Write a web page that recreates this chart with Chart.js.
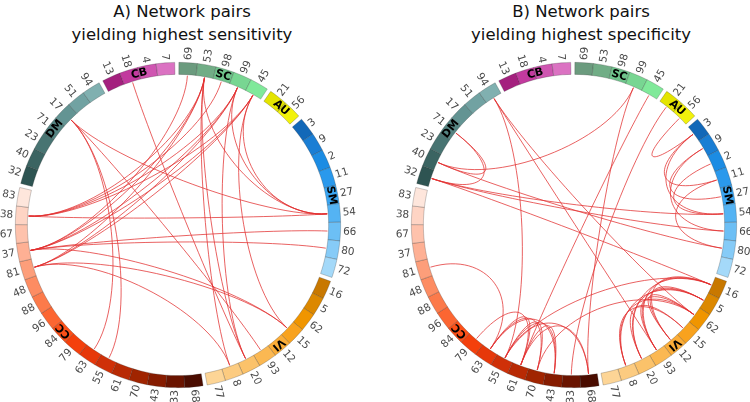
<!DOCTYPE html>
<html>
<head>
<meta charset="utf-8">
<script src="https://cdn.jsdelivr.net/npm/chart.js@4.4.1/dist/chart.umd.min.js"></script>
<style>
  body { margin: 0; width: 750px; height: 402px; overflow: hidden; position: relative; background: #fff; font-family: "DejaVu Sans", sans-serif; }
  .title { position: absolute; top: 0; width: 300px; text-align: center; font-size: 16.5px; line-height: 23px; color: #111; }
  canvas { position: absolute; top: 0; }
</style>
</head>
<body>
<div class="title" style="left:32px">A) Network pairs<br>yielding highest sensitivity</div>
<div class="title" style="left:431px">B) Network pairs<br>yielding highest specificity</div>
<canvas id="chartA" width="356" height="402" style="left:0"></canvas>
<canvas id="chartB" width="354" height="402" style="left:396px"></canvas>
<script>
// networks, clockwise from the top
const networkNames = ["SC", "AU", "SM", "VI", "CC", "DM", "CB"];
const SC = ["69", "53", "98", "99", "45"];
const AU = ["21", "56"];
const SM = ["3", "9", "2", "11", "27", "54", "66", "80", "72"];
const VI = ["16", "5", "62", "15", "12", "93", "20", "8", "77"];
const CC = ["68", "33", "43", "70", "61", "55", "63", "79", "84", "96", "88", "48", "81", "37", "67", "38", "83"];
const DM = ["32", "40", "23", "71", "17", "51", "94"];
const CB = ["13", "18", "4", "7"];

// node pairs drawn as chords
const sensitivityPairs = [
  ["38", "54"], ["38", "53"], ["38", "98"], ["38", "99"], ["38", "45"],
  ["37", "69"], ["37", "53"], ["37", "99"], ["37", "45"], ["37", "66"], ["37", "80"], ["37", "15"],
  ["81", "53"], ["81", "99"], ["81", "45"], ["81", "15"], ["81", "8"],
  ["17", "54"], ["17", "63"], ["17", "55"], ["17", "93"],
  ["18", "20"],
  ["53", "20"], ["53", "8"], ["53", "54"],
  ["99", "54"], ["99", "20"],
  ["45", "54"], ["45", "15"],
];
const specificityPairs = [
  ["32", "71"], ["40", "71"], ["32", "54"], ["32", "66"], ["32", "16"], ["40", "80"], ["40", "99"],
  ["94", "62"], ["94", "93"], ["94", "55"],
  ["99", "68"], ["21", "33"], ["56", "3"],
  ["3", "11"], ["3", "54"], ["9", "27"], ["9", "66"], ["2", "54"], ["11", "80"],
  ["16", "93"], ["16", "20"], ["5", "93"], ["5", "20"], ["5", "8"], ["62", "93"], ["62", "8"],
  ["15", "20"], ["15", "8"], ["62", "12"], ["16", "12"], ["5", "12"],
  ["63", "61"], ["63", "70"], ["55", "70"], ["55", "43"], ["61", "43"], ["79", "61"], ["63", "43"],
  ["68", "61"], ["68", "55"], ["81", "63"], ["55", "16"], ["61", "45"], ["70", "62"],
];

const networkNodes = { SC, AU, SM, VI, CC, DM, CB };
const palette = {
  SC: ["#6b9b7e", "#71ad86", "#6ec38b", "#78d692", "#80e99a"],
  AU: ["#e4e400", "#f2f20c"],
  SM: ["#1268b8", "#1a7ed4", "#1c8ce3", "#2a99ec", "#3aa5f1", "#54b3f3", "#6cbff5", "#86cbf7", "#a4d9f9"],
  VI: ["#c87800", "#dc8800", "#f09500", "#f8a21e", "#fbad38", "#fbb852", "#fbc26a", "#fccb80", "#fdd596"],
  CC: ["#4a0c00", "#6a1400", "#861c00", "#a02400", "#b82a04", "#cf3008", "#e6380a", "#f4400c", "#fc5018",
       "#fc6632", "#fc7a4a", "#fd8c62", "#fd9e7a", "#feb094", "#fec2ac", "#fed4c4", "#fee6dc"],
  DM: ["#2e5452", "#3b6462", "#487472", "#558482", "#639493", "#71a2a2", "#80b0b0"],
  CB: ["#a4207e", "#c23a9e", "#cf55b1", "#db72c2"],
};
const GAP = 0.22;

function buildRing() {
  const labels = [], values = [], colors = [], borders = [], widths = [];
  networkNames.forEach((name) => {
    networkNodes[name].forEach((node, i) => {
      labels.push(node);
      values.push(1);
      colors.push(palette[name][i]);
      borders.push("rgba(40,40,40,0.35)");
      widths.push(0.7);
    });
    labels.push("");
    values.push(GAP);
    colors.push("rgba(0,0,0,0)");
    borders.push("rgba(0,0,0,0)");
    widths.push(0);
  });
  return { labels, values, colors, borders, widths };
}

const circosPlugin = {
  id: "circos",
  afterDatasetsDraw(chart, args, opts) {
    const ctx = chart.ctx;
    const arcs = chart.getDatasetMeta(0).data;
    const labels = chart.data.labels;
    const cx = arcs[0].x, cy = arcs[0].y;
    const rIn = arcs[0].innerRadius, rOut = arcs[0].outerRadius;
    const mid = {};
    arcs.forEach((a, i) => {
      if (labels[i]) mid[labels[i]] = (a.startAngle + a.endAngle) / 2;
    });

    // chords
    ctx.save();
    ctx.strokeStyle = "rgba(226,48,48,0.85)";
    ctx.lineWidth = 0.9;
    const r = rIn - 1, k = 0.6;
    opts.pairs.forEach(([p, q]) => {
      const a1 = mid[p], a2 = mid[q];
      ctx.beginPath();
      ctx.moveTo(cx + r * Math.cos(a1), cy + r * Math.sin(a1));
      ctx.bezierCurveTo(
        cx + k * r * Math.cos(a1), cy + k * r * Math.sin(a1),
        cx + k * r * Math.cos(a2), cy + k * r * Math.sin(a2),
        cx + r * Math.cos(a2), cy + r * Math.sin(a2));
      ctx.stroke();
    });
    ctx.restore();

    // node numbers, radial
    ctx.save();
    ctx.font = "10.5px 'DejaVu Sans'";
    ctx.fillStyle = "#4a4a4a";
    ctx.textBaseline = "middle";
    Object.keys(mid).forEach((node) => {
      const a = mid[node];
      ctx.save();
      ctx.translate(cx, cy);
      if (Math.cos(a) >= -1e-6) {
        ctx.rotate(a);
        ctx.textAlign = "left";
        ctx.fillText(node, rOut + 2.5, 0);
      } else {
        ctx.rotate(a + Math.PI);
        ctx.textAlign = "right";
        ctx.fillText(node, -(rOut + 2.5), 0);
      }
      ctx.restore();
    });

    // network names on the ring
    ctx.font = "bold 11px 'DejaVu Sans'";
    ctx.fillStyle = "#000";
    ctx.textAlign = "center";
    networkNames.forEach((name) => {
      const nodes = networkNodes[name];
      const first = arcs[labels.indexOf(nodes[0])];
      const last = arcs[labels.indexOf(nodes[nodes.length - 1])];
      const a = (first.startAngle + last.endAngle) / 2;
      const rm = (rIn + rOut) / 2;
      ctx.save();
      ctx.translate(cx + rm * Math.cos(a), cy + rm * Math.sin(a));
      ctx.rotate(a + Math.PI / 2);
      ctx.fillText(name, 0, 0.5);
      ctx.restore();
    });
    ctx.restore();
  },
};

function makeChart(id, pairs, padding) {
  const ring = buildRing();
  return new Chart(document.getElementById(id), {
    type: "doughnut",
    data: {
      labels: ring.labels,
      datasets: [{
        data: ring.values,
        backgroundColor: ring.colors,
        borderColor: ring.borders,
        borderWidth: ring.widths,
      }],
    },
    options: {
      responsive: false,
      animation: false,
      events: [],
      devicePixelRatio: 1,
      rotation: 0.3,
      cutout: "92.6%",
      layout: { padding },
      plugins: {
        legend: { display: false },
        tooltip: { enabled: false },
        circos: { pairs },
      },
    },
    plugins: [circosPlugin],
  });
}

makeChart("chartA", sensitivityPairs, { left: 15, right: 15, top: 62, bottom: 14 });
makeChart("chartB", specificityPairs, { left: 15, right: 13, top: 62, bottom: 14 });
</script>
</body>
</html>
